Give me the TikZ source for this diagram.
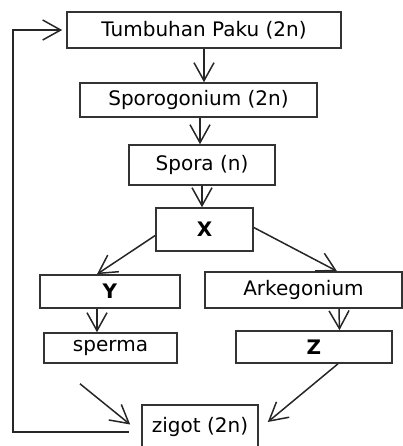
\documentclass[tikz,border=0pt]{standalone}
\usepackage{fontspec}
\setmainfont{DejaVu Sans}
\usetikzlibrary{arrows.meta,calc}

\begin{document}
\begin{tikzpicture}[x=0.5pt, y=-0.5pt,
	every node/.style = {font=\fontsize{10pt}{12pt}\selectfont},
	box/.style = {draw=black!80, line width=0.8pt, inner sep=0pt},
	arr/.style = {draw=black!85, line width=0.75pt,
		-{Straight Barb[length=9pt,width=10pt,line width=0.75pt]}}]
	\useasboundingbox (0,0) rectangle (403,446);
	% boxes
	\node[box, minimum width=137pt, minimum height=18pt] (paku) at (204,30) {Tumbuhan Paku (2n)};
	\node[box, minimum width=118.5pt, minimum height=17pt] (sporog) at (198.5,100) {Sporogonium (2n)};
	\node[box, minimum width=73pt, minimum height=20pt] (spora) at (202,165) {Spora (n)};
	\node[box, minimum width=48.5pt, minimum height=21.5pt] (X) at (204.5,229.5) {\textbf{X}};
	\node[box, minimum width=70pt, minimum height=16.5pt] (Y) at (110,291.5) {\textbf{Y}};
	\node[box, minimum width=98.5pt, minimum height=18pt] (arke) at (303.5,290) {Arkegonium};
	\node[box, minimum width=66.5pt, minimum height=15pt] (sperma) at (110.5,348) {sperma};
	\node[box, minimum width=78pt, minimum height=16pt] (Z) at (314,347) {\textbf{Z}};
	\node[box, minimum width=58pt, minimum height=21.5pt] (zigot) at (200,426.5) {zigot (2n)};
	% arrows
	\draw[arr] (paku.south) -- (paku.south |- sporog.north);
	\draw[arr] ($(sporog.south)+(1.5,0)$) -- ($(spora.north)+(-2,0)$);
	\draw[arr] (spora.south) -- (spora.south |- X.north);
	\draw[arr] ($(X.west)+(0,6)$) -- ($(Y.north)+(-13,0)$);
	\draw[arr] ($(X.east)+(0,-2)$) -- ($(arke.north)+(33.5,0)$);
	\draw[arr] ($(Y.south)+(-13,0)$) -- ($(sperma.north)+(-13.5,0)$);
	\draw[arr] ($(arke.south)+(35.5,0)$) -- ($(Z.north)+(25.5,0)$);
	\draw[arr] ($(sperma.south)+(-30.5,20)$) -- ($(zigot.west)+(-11,-2)$);
	\draw[arr] ($(Z.south)+(24,0)$) -- ($(zigot.east)+(9,-4.5)$);
	% back to the fern
	\coordinate (back) at ($(zigot.west)+(-12,5.5)$);
	\draw[arr] (back) -- (13,432) -- (13,30) -- ($(paku.west)+(-4,0)$);
\end{tikzpicture}
\end{document}
